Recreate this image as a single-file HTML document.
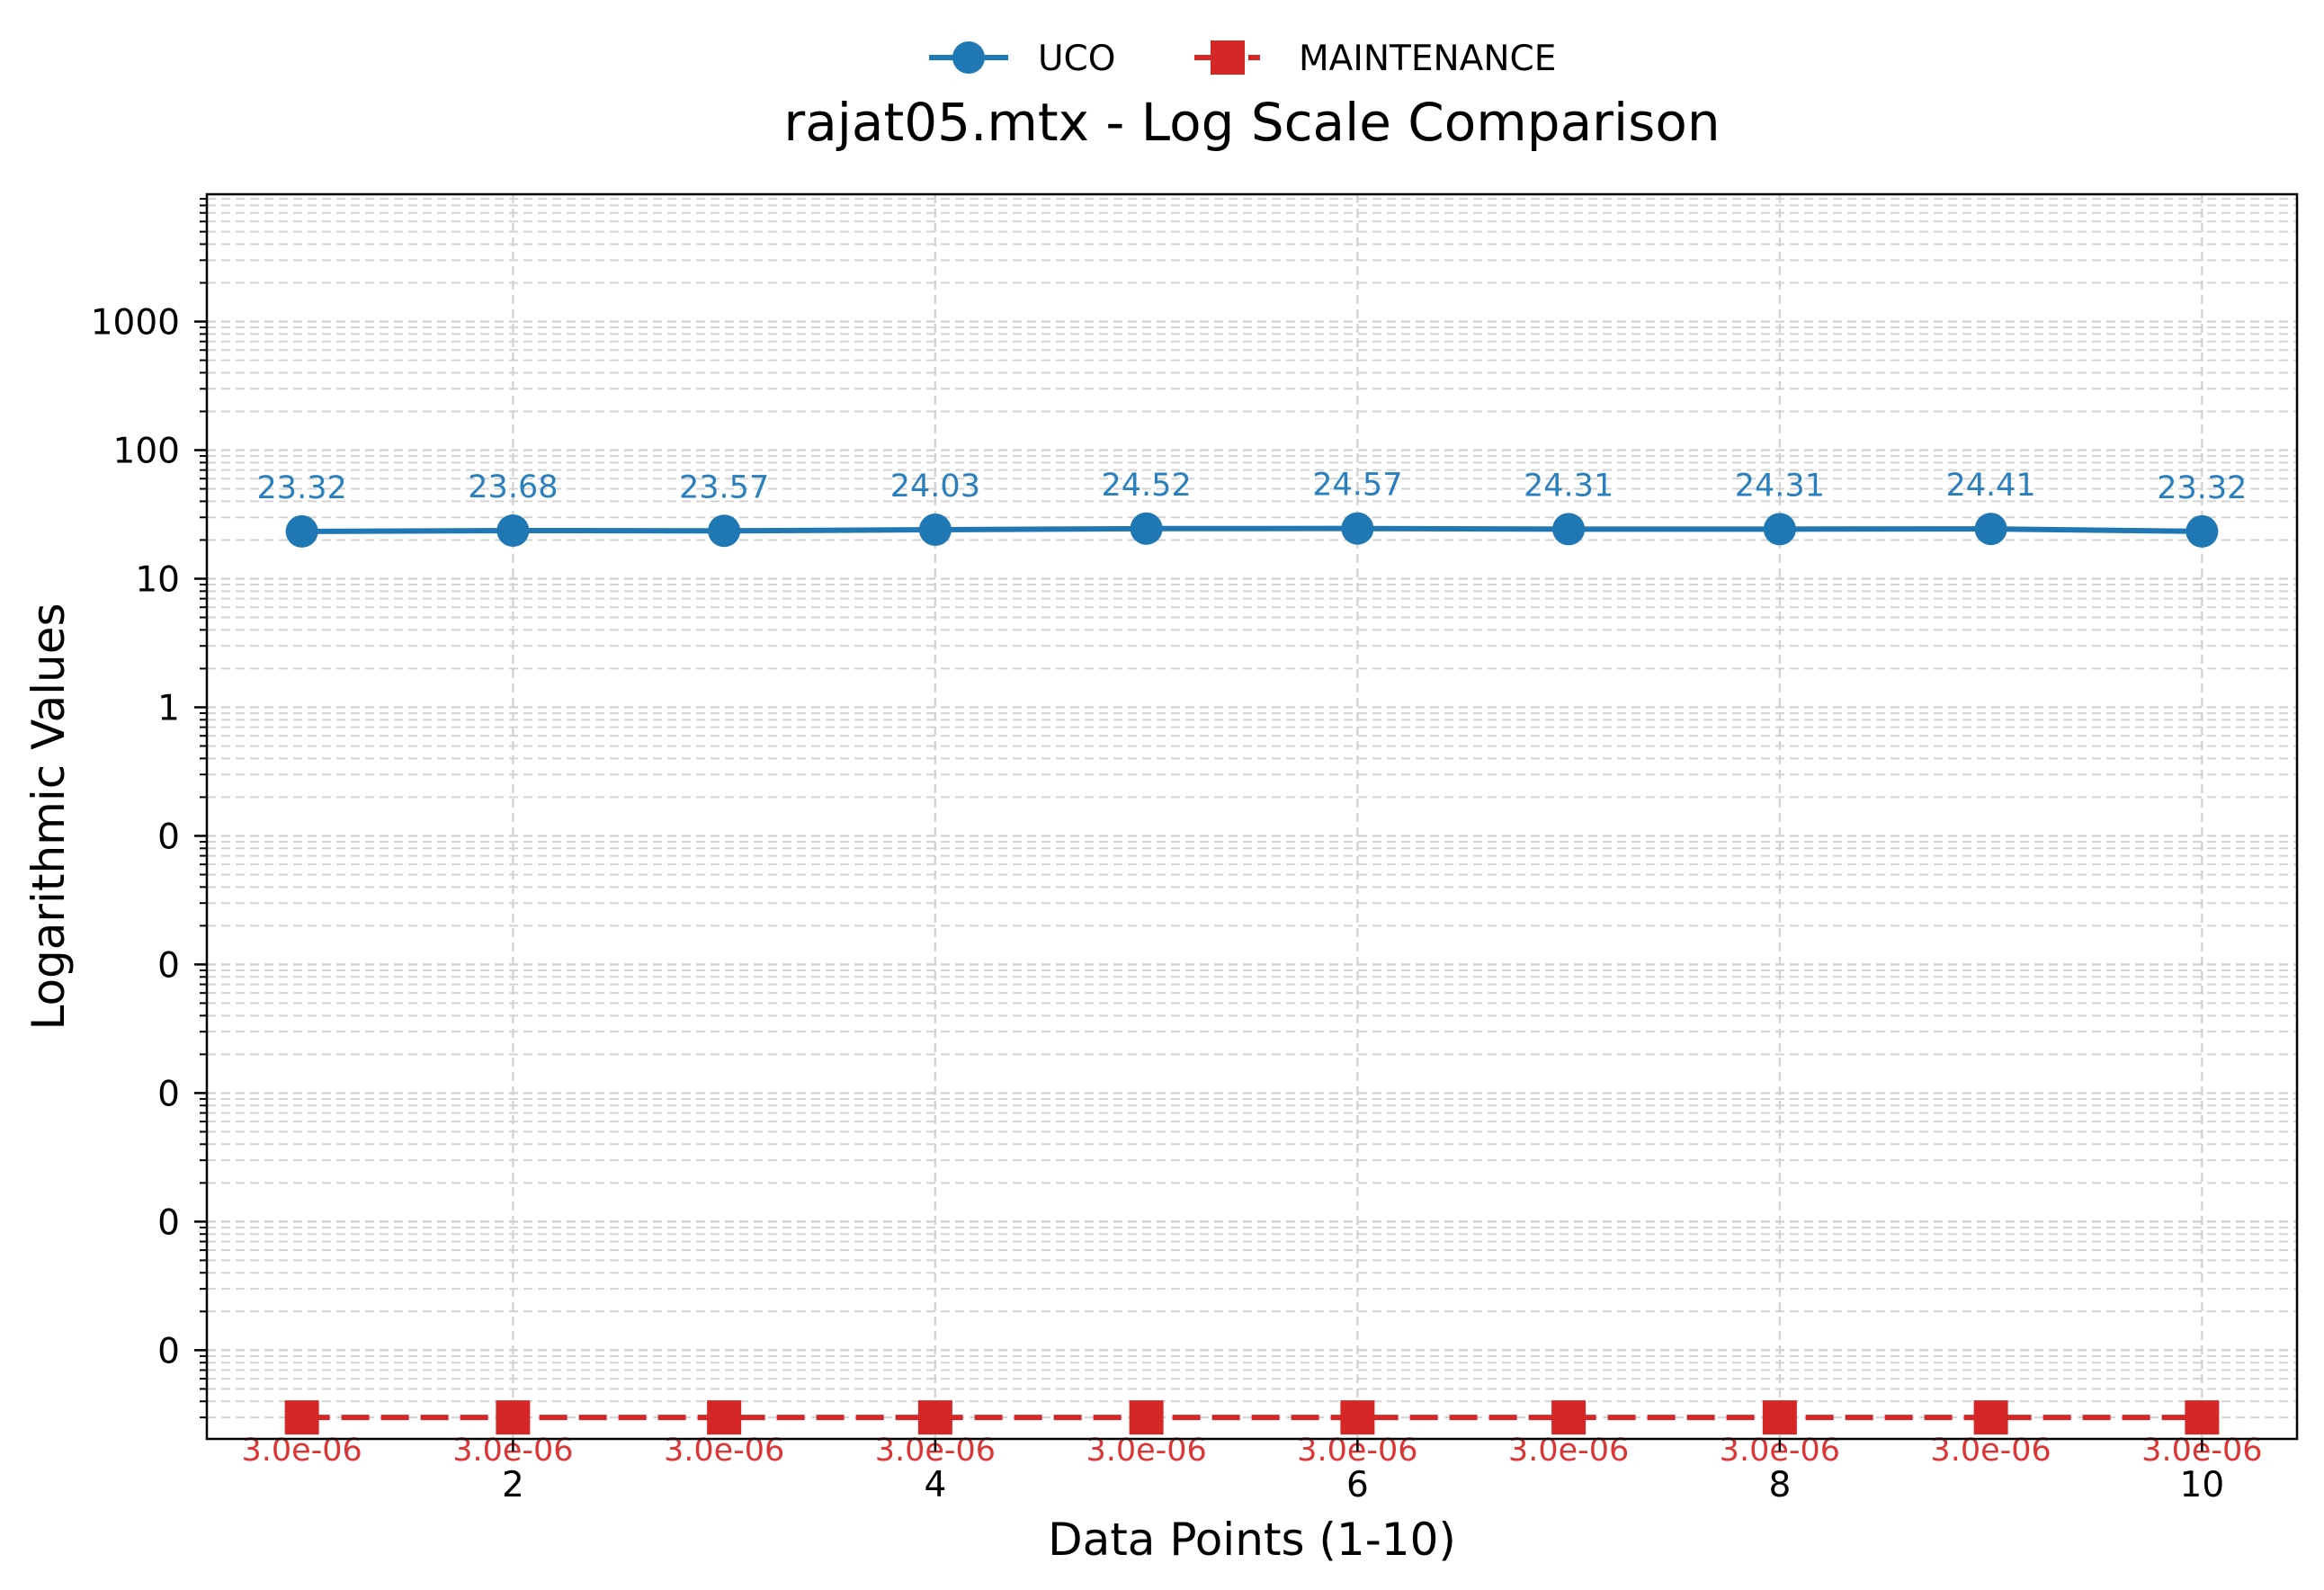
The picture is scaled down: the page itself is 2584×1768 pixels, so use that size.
<!DOCTYPE html>
<html><head><meta charset="utf-8">
<style>
html,body{margin:0;padding:0;background:#fff;}
svg{display:block;font-family:"DejaVu Sans","Liberation Sans",sans-serif;}
</style></head>
<body>
<svg id="chart" width="2584" height="1768" viewBox="0 0 2584 1768" xmlns="http://www.w3.org/2000/svg">
  <rect width="2584" height="1768" fill="#fff"/>
  <g id="grid"></g>
  <g id="series"></g>
  <rect x="230" y="216" width="2324" height="1384" fill="none" stroke="#000" stroke-width="2.5"/>
  <g id="axes"></g>
  <text x="1392" y="156" font-size="58" text-anchor="middle">rajat05.mtx - Log Scale Comparison</text>
  <text x="1392" y="1729" font-size="50" text-anchor="middle">Data Points (1-10)</text>
  <text x="0" y="0" font-size="50" text-anchor="middle" transform="translate(71,908) rotate(-90)">Logarithmic Values</text>
  <g>
    <g>
      <line x1="1033" y1="64" x2="1121" y2="64" stroke="#1f77b4" stroke-width="6"/>
      <circle cx="1077" cy="64" r="18" fill="#1f77b4"/>
      <text x="1154" y="78" font-size="39">UCO</text>
    </g>
    <g>
      <line x1="1328" y1="64" x2="1401" y2="64" stroke="#d62728" stroke-width="6" stroke-dasharray="22,8"/>
      <rect x="1346" y="45" width="38" height="38" fill="#d62728"/>
      <text x="1444" y="78" font-size="39">MAINTENANCE</text>
    </g>
  </g>
</svg>
<script>
const categories = [1,2,3,4,5,6,7,8,9,10];
const ucoValues = [23.32,23.68,23.57,24.03,24.52,24.57,24.31,24.31,24.41,23.32];
const maintenanceValues = [3.0e-6,3.0e-6,3.0e-6,3.0e-6,3.0e-6,3.0e-6,3.0e-6,3.0e-6,3.0e-6,3.0e-6];
const maintenanceLabels = ["3.0e-06","3.0e-06","3.0e-06","3.0e-06","3.0e-06","3.0e-06","3.0e-06","3.0e-06","3.0e-06","3.0e-06"];
const yTickExps = [3,2,1,0,-1,-2,-3,-4,-5];
const yTickLabels = ["1000","100","10","1","0","0","0","0","0"];
const xTicks = [2,4,6,8,10];

const NS="http://www.w3.org/2000/svg";
const L=230,R=2554,T=216,B=1600;
const xMin=0.55,xMax=10.45, yMinLog=-5.69, yMaxLog=3.99;
function xs(v){return L+(v-xMin)/(xMax-xMin)*(R-L);}
function ys(v){return B-(Math.log10(v)-yMinLog)/(yMaxLog-yMinLog)*(B-T);}
function mk(tag,attrs,parent){const e=document.createElementNS(NS,tag);for(const k in attrs)e.setAttribute(k,attrs[k]);parent.appendChild(e);return e;}
const grid=document.getElementById('grid'),axes=document.getElementById('axes'),series=document.getElementById('series');

for(let d=-6;d<=4;d++){
  for(let m=1;m<=9;m++){
    const v=m*Math.pow(10,d);const y=ys(v);
    if(y<T-0.5||y>B+0.5)continue;
    const g=mk('line',{x1:L,x2:R,y1:y,y2:y,stroke:'#d3d3d3','stroke-width':m===1?2.4:2,'stroke-dasharray':'10,6'},grid);
    
    
    const t=mk('line',{x1:L,x2:L-(m===1?14:8),y1:y,y2:y,stroke:'#000','stroke-width':m===1?2.5:2},axes);
    
    
  }
}
yTickExps.forEach((e,i)=>{
  const y=ys(Math.pow(10,e));
  const tx=mk('text',{x:L-30,y:y+14,'font-size':39,'text-anchor':'end'},axes);
  tx.textContent=yTickLabels[i];
  
  
});
xTicks.forEach(v=>{
  const x=xs(v);
  const g=mk('line',{x1:x,x2:x,y1:T,y2:B,stroke:'#d3d3d3','stroke-width':2.4,'stroke-dasharray':'10,6'},grid);
  
  
  const t=mk('line',{x1:x,x2:x,y1:B,y2:B+14,stroke:'#000','stroke-width':2.5},axes);
  
  
  const tx=mk('text',{x:x,y:B+64,'font-size':39,'text-anchor':'middle'},axes);
  tx.textContent=String(v);
  
  
});

const up=categories.map((c,i)=>xs(c)+','+ys(ucoValues[i])).join(' ');
const ul=mk('polyline',{points:up,fill:'none',stroke:'#1f77b4','stroke-width':6},series);


categories.forEach((c,i)=>{
  const p=mk('circle',{cx:xs(c),cy:ys(ucoValues[i]),r:18,fill:'#1f77b4'},series);
  
  
  const t=mk('text',{x:xs(c),y:ys(ucoValues[i])-37,'font-size':35,'text-anchor':'middle',fill:'#2a7fbd'},series);
  t.textContent=ucoValues[i].toFixed(2);
  
  
});
const mp=categories.map((c,i)=>xs(c)+','+ys(maintenanceValues[i])).join(' ');
const ml=mk('polyline',{points:mp,fill:'none',stroke:'#d62728','stroke-width':6,'stroke-dasharray':'31,13'},series);


categories.forEach((c,i)=>{
  const x=xs(c),y=ys(maintenanceValues[i]);
  const p=mk('rect',{x:x-19,y:y-19,width:38,height:38,fill:'#d62728'},series);
  
  
  const t=mk('text',{x:x,y:y+48,'font-size':35,'text-anchor':'middle',fill:'#dc3535'},series);
  t.textContent=maintenanceLabels[i];
  
  
});
</script>
</body></html>
